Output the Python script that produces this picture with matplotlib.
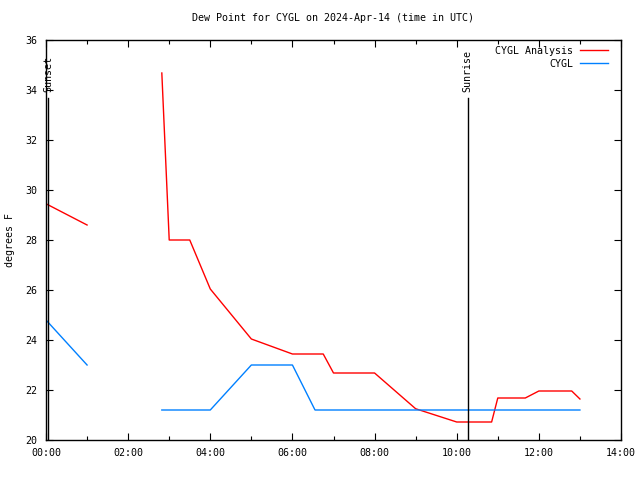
import numpy as np
import matplotlib
matplotlib.use("Agg")
import matplotlib.pyplot as plt
from matplotlib.ticker import FuncFormatter, MultipleLocator

# Hours after 00:00 UTC, NaN marks a break in the line
analysis_hours = [0.0, 1.0, np.nan, 2.82, 3.0, 3.5, 4.0, 5.0, 6.0, 6.75, 7.0, 8.0,
                  9.0, 10.0, 10.85, 11.0, 11.67, 12.0, 12.8, 13.0]
analysis_dewpt = [29.45, 28.6, np.nan, 34.68, 28.0, 28.0, 26.04, 24.04, 23.44, 23.44,
                  22.68, 22.68, 21.25, 20.72, 20.72, 21.68, 21.68, 21.96, 21.96, 21.64]

obs_hours = [0.0, 1.0, np.nan, 2.82, 4.0, 5.0, 6.0, 6.55, 13.0]
obs_dewpt = [24.8, 23.0, np.nan, 21.2, 21.2, 23.0, 23.0, 21.2, 21.2]

sun_labels = ["Sunset", "Sunrise"]
sun_hours = [0.05, 10.27]

font = "DejaVu Sans Mono"
fs = 7.2

fig = plt.figure(figsize=(6.4, 4.8), dpi=100)
ax = fig.add_axes([46 / 640, 40 / 480, 575 / 640, 400 / 480])

ax.plot(analysis_hours, analysis_dewpt, color="#ff0000", linewidth=1, label="CYGL Analysis")
ax.plot(obs_hours, obs_dewpt, color="#0080ff", linewidth=1, label="CYGL")

# sunset / sunrise markers
for name, h in zip(sun_labels, sun_hours):
    ax.plot([h, h], [20, 33.68], color="black", linewidth=1)
    ax.text(h, 33.92, name, rotation=90, ha="center", va="bottom",
            family=font, fontsize=fs)

ax.set_xlim(0, 14)
ax.set_ylim(20, 36)
ax.xaxis.set_major_locator(MultipleLocator(2))
ax.xaxis.set_minor_locator(MultipleLocator(1))
ax.yaxis.set_major_locator(MultipleLocator(2))
ax.xaxis.set_major_formatter(FuncFormatter(lambda v, p: "%02d:00" % int(round(v))))
ax.tick_params(which="both", direction="in", top=True, right=True, length=5, width=0.8)
ax.tick_params(which="minor", length=3)
ax.tick_params(labelsize=fs, pad=6)
for lab in ax.get_xticklabels() + ax.get_yticklabels():
    lab.set_family(font)
for sp in ax.spines.values():
    sp.set_linewidth(1)

ax.set_title("Dew Point for CYGL on 2024-Apr-14 (time in UTC)", family=font,
             fontsize=fs, pad=14)
fig.text(10 / 640, 0.5, "degrees F", rotation=90, ha="center", va="center",
         family=font, fontsize=fs)

leg = ax.legend(loc="upper right", frameon=False, markerfirst=False,
                prop={"family": font, "size": fs}, handlelength=2.8,
                borderaxespad=0.2, labelspacing=0.3, handletextpad=0.7,
                bbox_to_anchor=(1.0 - 7 / 575, 1.0))
for t in leg.get_texts():
    t.set_ha("right")
leg._legend_box.align = "right"

fig.savefig("out.png", dpi=100)
